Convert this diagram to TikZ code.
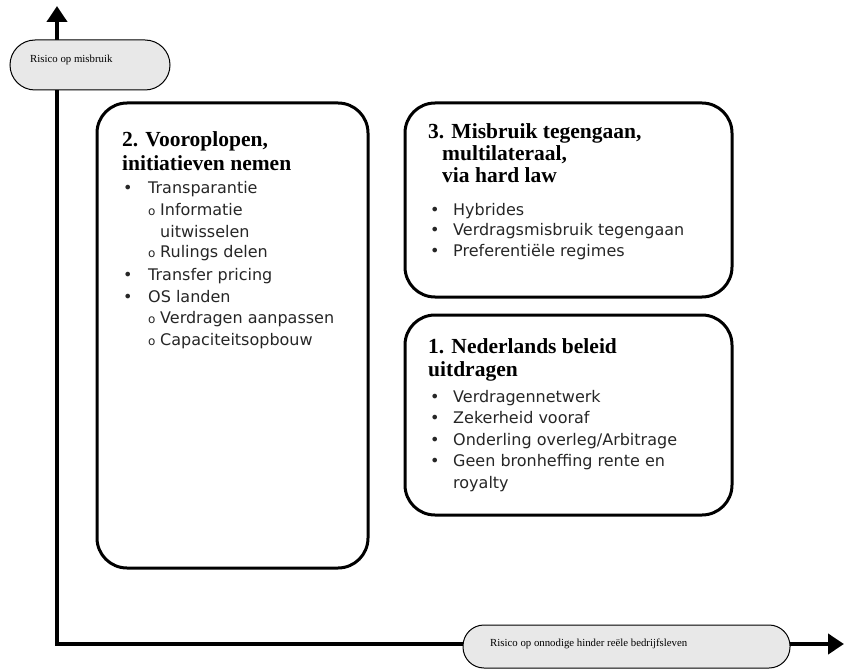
\documentclass[tikz,border=0pt]{standalone}
\usepackage{fontspec}
\setmainfont{Liberation Serif}
\newfontfamily\verdana{DejaVu Sans}
\usetikzlibrary{arrows.meta}

\begin{document}
\begin{tikzpicture}[x = 1pt, y = -1pt,
                    vak/.style = {draw, line width = 3pt, rounded corners = 30pt, inner sep = 0pt},
                    as/.style = {line width = 4pt, {Triangle[width = 20pt, length = 16pt]}-{Triangle[width = 20pt, length = 16pt]}},
                    label/.style = {draw, line width = 1pt, fill = gray!18, inner sep = 0pt},
                    astekst/.style = {anchor = base west, inner sep = 0pt, font = \fontsize{10.8}{13}\selectfont},
                    kop/.style = {anchor = base west, inner sep = 0pt, font = \fontsize{21.5}{24}\selectfont\bfseries},
                    tekst/.style = {anchor = base west, inner sep = 0pt, font = \verdana\fontsize{16}{19}\selectfont, text = black!85},
                    rondje/.style = {anchor = base west, inner sep = 0pt, font = \verdana\fontsize{12}{14}\selectfont, text = black!85}]
      \useasboundingbox (0, 0) rectangle (846, 671);
      % assen
      \coordinate (ytop) at (57, 6);
      \coordinate (xend) at (844, 644);
      \draw [as] (ytop) |- (xend);
      \node [label, rounded corners = 25pt, minimum width = 160pt, minimum height = 50pt] (ly) at (90, 65){};
      \node [astekst] (lyt) at (30, 63) {Risico op misbruik};
      \node [label, rounded corners = 21pt, minimum width = 327pt, minimum height = 43pt] (lx) at (626.5, 646.5){};
      \node [astekst] (lxt) at (490, 646) {Risico op onnodige hinder reële bedrijfsleven};
      % vakken
      \node [vak, minimum width = 271pt, minimum height = 465pt] (v2) at (232.5, 335.5){};
      \node [vak, minimum width = 327pt, minimum height = 194pt] (v3) at (568.5, 200){};
      \node [vak, minimum width = 327pt, minimum height = 200pt] (v1) at (568.5, 415){};
      % vak 2
      \node [kop] (k2a) at (122, 147) {2. Vooroplopen,};
      \node [kop] (k2b) at (122, 171) {initiatieven nemen};
      \node [tekst] (p2a) at (123, 194) {•};   \node [tekst] (t2a) at (148, 194) {Transparantie};
      \node [rondje] (o2a) at (148, 215) {o};   \node [tekst] (t2b) at (160, 215) {Informatie};
      \node [tekst] (t2c) at (160, 237) {uitwisselen};
      \node [rondje] (o2b) at (148, 258) {o};   \node [tekst] (t2d) at (160, 258) {Rulings delen};
      \node [tekst] (p2b) at (123, 280) {•};   \node [tekst] (t2e) at (148, 280) {Transfer pricing};
      \node [tekst] (p2c) at (123, 302) {•};   \node [tekst] (t2f) at (148, 302) {OS landen};
      \node [rondje] (o2c) at (148, 323) {o};   \node [tekst] (t2g) at (160, 323) {Verdragen aanpassen};
      \node [rondje] (o2d) at (148, 345) {o};   \node [tekst] (t2h) at (160, 345) {Capaciteitsopbouw};
      % vak 3
      \node [kop] (k3a) at (428, 139) {3. Misbruik tegengaan,};
      \node [kop] (k3b) at (442, 161) {multilateraal,};
      \node [kop] (k3c) at (442, 183) {via hard law};
      \node [tekst] (p3a) at (430, 215) {•};   \node [tekst] (t3a) at (453, 215) {Hybrides};
      \node [tekst] (p3b) at (430, 236) {•};   \node [tekst] (t3b) at (453, 236) {Verdragsmisbruik tegengaan};
      \node [tekst] (p3c) at (430, 257) {•};   \node [tekst] (t3c) at (453, 257) {Preferentiële regimes};
      % vak 1
      \node [kop] (k1a) at (428, 353) {1. Nederlands beleid};
      \node [kop] (k1b) at (428, 376) {uitdragen};
      \node [tekst] (p1a) at (430, 402) {•};   \node [tekst] (t1a) at (453, 402) {Verdragennetwerk};
      \node [tekst] (p1b) at (430, 423) {•};   \node [tekst] (t1b) at (453, 423) {Zekerheid vooraf};
      \node [tekst] (p1c) at (430, 445) {•};   \node [tekst] (t1c) at (453, 445) {Onderling overleg/Arbitrage};
      \node [tekst] (p1d) at (430, 466) {•};   \node [tekst] (t1d) at (453, 466) {Geen bronheffing rente en};
      \node [tekst] (t1e) at (453, 488) {royalty};
    \end{tikzpicture}
\end{document}
